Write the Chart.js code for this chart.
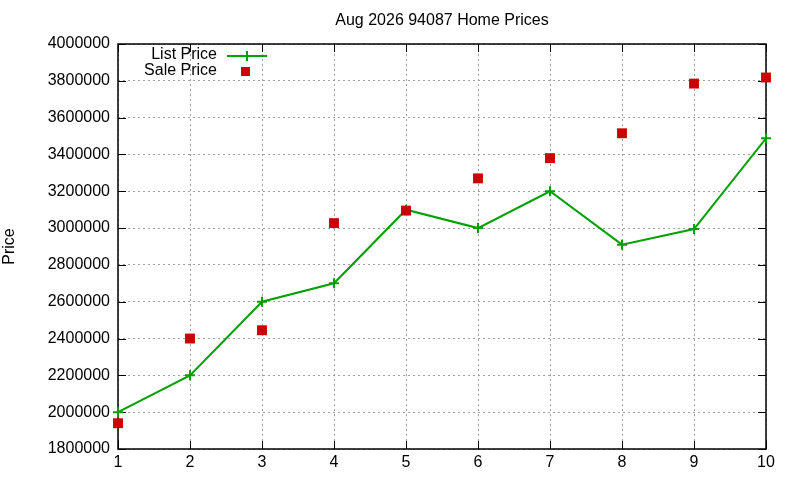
<!DOCTYPE html>
<html>
<head>
<meta charset="utf-8">
<script src="https://cdn.jsdelivr.net/npm/chart.js@4"></script>
<style>
  html,body{margin:0;padding:0;background:#fff;}
  #wrap{width:800px;height:480px;}
</style>
</head>
<body>
<div id="wrap"><canvas id="chart" width="800" height="480"></canvas></div>
<script>
// data
const months = [1,2,3,4,5,6,7,8,9,10];
const listPrice = [2000000,2200000,2600000,2700000,3100000,3000000,3200000,2910000,2995000,3488000];
const salePrice = [1940000,2400000,2445000,3027000,3095000,3270000,3380000,3515000,3785000,3818000];
const yTicks = [1800000,2000000,2200000,2400000,2600000,2800000,3000000,3200000,3400000,3600000,3800000,4000000];
const chartTitle = 'Aug 2026 94087 Home Prices';

const FONT = '"Liberation Sans", Arial, sans-serif';
const GREEN = '#00a000', RED = '#cc0000';

// frame + inward ticks go under the marks, title and key on top
const gnuplotFrame = {
  id:'gnuplotFrame',
  beforeDatasetsDraw(chart){
    const {ctx, chartArea:a, scales} = chart;
    ctx.save();
    ctx.strokeStyle='#000'; ctx.lineWidth=1.5;
    ctx.strokeRect(a.left, a.top, a.right-a.left, a.bottom-a.top);
    ctx.lineWidth=1;
    ctx.beginPath();
    yTicks.forEach(v=>{
      const y=Math.round(scales.y.getPixelForValue(v))+0.5;
      ctx.moveTo(a.left,y); ctx.lineTo(a.left+8,y);
      ctx.moveTo(a.right,y); ctx.lineTo(a.right-8,y);
    });
    months.forEach(m=>{
      const x=Math.round(scales.x.getPixelForValue(m))+0.5;
      ctx.moveTo(x,a.bottom); ctx.lineTo(x,a.bottom-8);
      ctx.moveTo(x,a.top); ctx.lineTo(x,a.top+8);
    });
    ctx.stroke();
    ctx.restore();
  },
  afterDraw(chart){
    const {ctx, chartArea:a} = chart;
    ctx.save();
    ctx.fillStyle='#000'; ctx.font='16px '+FONT;
    ctx.textAlign='center'; ctx.textBaseline='middle';
    ctx.fillText(chartTitle, (a.left+a.right)/2, 21);
    ctx.textAlign='right';
    ctx.fillText('List Price', 217, 55);
    ctx.fillText('Sale Price', 217, 71);
    ctx.strokeStyle=GREEN; ctx.lineWidth=2;
    ctx.beginPath();
    ctx.moveTo(227,56); ctx.lineTo(267,56);
    ctx.moveTo(247,51); ctx.lineTo(247,61);
    ctx.stroke();
    ctx.fillStyle=RED;
    ctx.fillRect(241,67,9,9);
    ctx.restore();
  }
};

new Chart(document.getElementById('chart'), {
  type:'line',
  data:{
    datasets:[
      {label:'List Price', data:months.map((m,i)=>({x:m,y:listPrice[i]})), order:1,
       borderColor:GREEN, backgroundColor:GREEN, borderWidth:2, clip:false,
       pointStyle:'cross', pointRadius:5, pointBorderWidth:2, tension:0},
      {label:'Sale Price', data:months.map((m,i)=>({x:m,y:salePrice[i]})), order:0,
       showLine:false, borderColor:RED, backgroundColor:RED, clip:false,
       pointStyle:'rect', pointRadius:7, pointBorderWidth:0}
    ]
  },
  options:{
    responsive:false, animation:false,
    layout:{padding:{left:0,top:44,right:34,bottom:0}},
    plugins:{legend:{display:false}, title:{display:false}, tooltip:{enabled:false}},
    scales:{
      x:{type:'linear', min:1, max:10,
         afterBuildTicks:s=>{s.ticks=months.map(v=>({value:v}));},
         afterFit:s=>{s.height=31;},
         grid:{color:'#a0a0a0', lineWidth:1, drawTicks:false},
         border:{display:false, dash:[2,3]},
         ticks:{color:'#000', font:{family:FONT,size:16}, padding:4, maxRotation:0}},
      y:{min:1800000, max:4000000,
         afterBuildTicks:s=>{s.ticks=yTicks.map(v=>({value:v}));},
         afterFit:s=>{s.width=118;},
         grid:{color:'#a0a0a0', lineWidth:1, drawTicks:false},
         border:{display:false, dash:[2,3]},
         title:{display:true, text:'Price', color:'#000', font:{family:FONT,size:16}, padding:{top:0,bottom:0}},
         ticks:{color:'#000', font:{family:FONT,size:16}, padding:8, callback:v=>String(v)}}
    }
  },
  plugins:[gnuplotFrame]
});
</script>
</body>
</html>
